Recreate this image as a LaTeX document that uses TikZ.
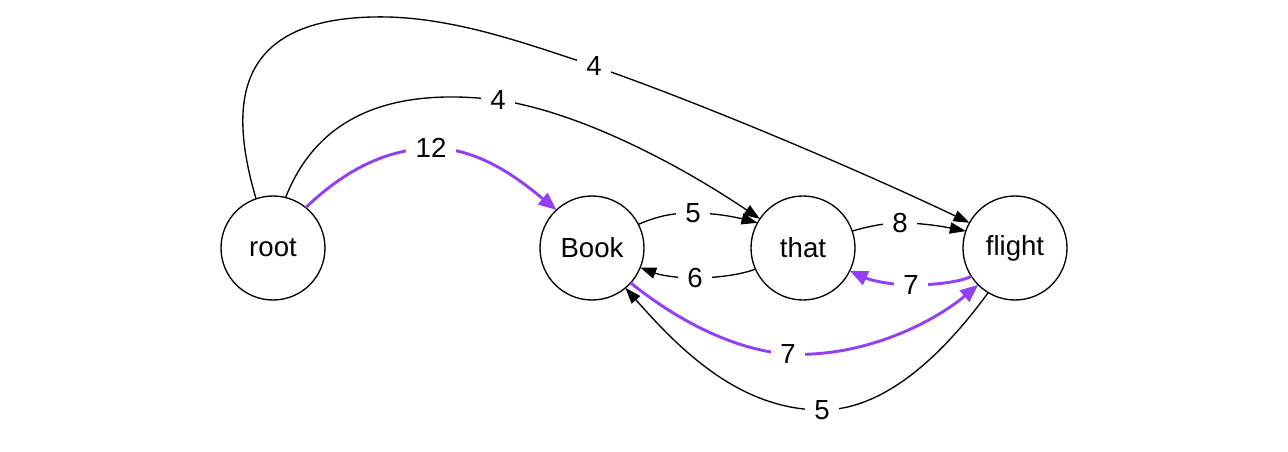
\documentclass[tikz,border=0pt]{standalone}
\usepackage{fontspec}
\setmainfont{Liberation Sans}
\usetikzlibrary{arrows.meta}
\definecolor{vio}{HTML}{9340F5}
\begin{document}
\begin{tikzpicture}[x=0.75pt,y=-0.75pt,
  every node/.style={font=\fontsize{20.7}{24}\selectfont},
  vtx/.style={circle,draw,line width=1pt,minimum size=78pt,inner sep=0pt,outer sep=0pt},
  lbl/.style={fill=white,inner xsep=7pt,inner ysep=1pt},
  edg/.style={line width=1pt,-{Triangle[length=12pt,width=8.5pt]}},
  hot/.style={draw=vio,line width=2.2pt,-{Triangle[length=13.5pt,width=11pt]}}]
\useasboundingbox (0,0) rectangle (1288,452);
\node[vtx] (root) at (273,248) {root};
\node[vtx] (book) at (592,248) {Book};
\node[vtx] (that) at (803,248) {that};
\node[vtx] (flight) at (1015,248) {flight};
% root -> flight
\draw[edg] (root.109) .. controls (230,110) and (230,20) .. (373,17)
  .. controls (450,15) and (530,45) .. (594,66) node[lbl] {4}
  .. controls (720,110) and (880,180) .. (flight.151.6);
% root -> that
\draw[edg] (root.76) .. controls (320,110) and (400,88) .. (498,100) node[lbl] {4}
  .. controls (580,112) and (680,165) .. (that.146);
% root -> Book
\draw[hot] (root.51) .. controls (340,175) and (380,150) .. (431,148) node[lbl] {12}
  .. controls (480,148) and (520,180) .. (book.133);
% Book -> that
\draw[edg] (book.27.5) .. controls (660,215) and (675,213) .. (693,213) node[lbl] {5}
  .. controls (715,213) and (735,217) .. (that.151.5);
% that -> Book
\draw[edg] (that.204.6) .. controls (740,275) and (715,278) .. (695,278) node[lbl] {6}
  .. controls (675,278) and (660,275) .. (book.-22.8);
% that -> flight
\draw[edg] (that.19) .. controls (870,226) and (885,223) .. (900,223) node[lbl] {8}
  .. controls (925,223) and (945,227) .. (flight.161.5);
% flight -> that
\draw[hot] (flight.213.7) .. controls (960,282) and (935,285) .. (911,285) node[lbl] {7}
  .. controls (890,285) and (870,280) .. (that.-26.6);
% Book -> flight
\draw[hot] (book.-42.6) .. controls (670,315) and (730,350) .. (788,354) node[lbl] {7}
  .. controls (860,358) and (930,325) .. (flight.225.7);
% flight -> Book
\draw[edg] (flight.239) .. controls (950,345) and (890,410) .. (822,410) node[lbl] {5}
  .. controls (740,410) and (680,350) .. (book.-50);
\end{tikzpicture}
\end{document}
